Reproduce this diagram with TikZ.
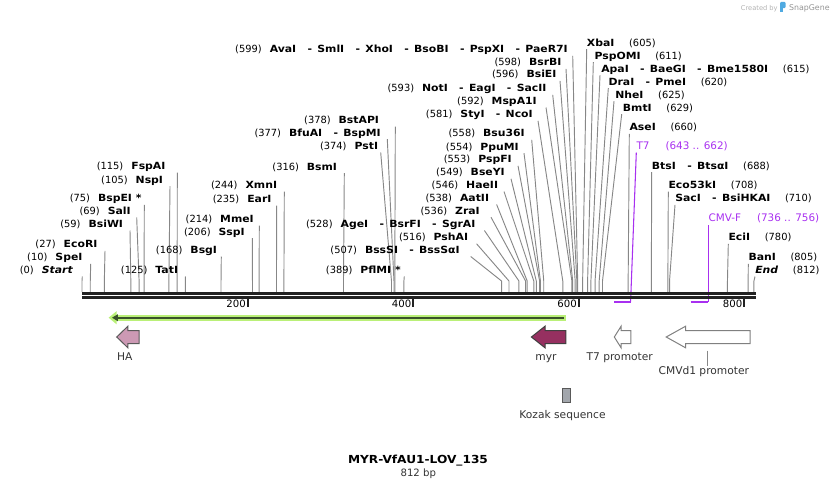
\documentclass[tikz,border=0pt]{standalone}
\usepackage{fontspec}
\setmainfont{DejaVu Sans}[BoldFeatures={FakeStretch=1.1},BoldItalicFeatures={FakeStretch=1.1}]
\usetikzlibrary{arrows.meta}
\definecolor{sitegray}{RGB}{135,135,135}
\definecolor{mapblack}{RGB}{34,34,34}
\definecolor{primer}{RGB}{168,48,240}
\definecolor{hapink}{RGB}{204,153,180}
\definecolor{myrred}{RGB}{150,48,96}
\definecolor{orfglow}{RGB}{186,240,120}
\definecolor{orfdark}{RGB}{58,82,42}
\definecolor{kozakgray}{RGB}{162,166,172}
\definecolor{logoblue}{RGB}{80,170,225}
% separator between enzymes that cut at the same place
\newcommand{\dsh}{\hspace{8.5pt}-\hspace{4pt}}
% left pointing feature: tip x, neck x, end x, style
\newcommand{\featarrow}[4]{\draw[feat,#4] (#1,337) -- (#2,326.2) -- (#2,330.6) -- (#3,330.6) -- (#3,343.6) -- (#2,343.6) -- (#2,347.8) -- cycle;}

\begin{document}
\begin{tikzpicture}[x=0.75pt, y=-0.75pt,
  every node/.style={font=\fontsize{7.4}{8}\selectfont, inner sep=0pt, text height=6pt, text depth=1pt},
  site/.style={sitegray, line width=0.7pt},
  lab/.style={anchor=east},
  rlab/.style={anchor=west},
  featlab/.style={font=\fontsize{8}{9}\selectfont, text=black!80},
  primlab/.style={anchor=west, text=primer, font=\fontsize{7.8}{9}\selectfont},
  feat/.style={line width=0.75pt, line join=miter}]
\useasboundingbox (0,0) rectangle (838,489);

% enzymes with labels on the left: bp / gap / label x / label y / name
\foreach \b/\d/\e/\y/\n in {0/9/73.3/270/\textit{Start}, 10/8/82.7/257.3/SpeI, 27/7.3/97.7/244.3/EcoRI,
    59/6.7/123.3/224/BsiWI, 69/5.7/131/211/SalI, 75/2.6/141.7/198.3/BspEI *, 105/6.7/163.3/179.7/NspI,
    115/11.6/165.7/166/FspAI, 125/7/178.3/270/TatI, 168/4/217.3/250/BsgI, 206/7.3/245/231.7/SspI,
    214/5.3/254/219/MmeI, 235/5/271.7/199/EarI, 244/7/277.3/185/XmnI, 316/7/337.3/166.7/BsmI,
    374/2.4/378.3/146/PstI, 377/6.3/381/132.7/BfuAI\dsh BspMI, 378/16/379.3/120/BstAPI,
    389/3.3/401/270/PflMI *, 507/10.7/460/250/BssSI\dsh BssSαI, 516/8.3/468.3/237.3/PshAI,
    528/8.7/475.7/224/AgeI\dsh BsrFI\dsh SgrAI, 536/11/480/210.7/ZraI, 538/7.3/489.3/198/AatII,
    546/5.7/498.3/185/HaeII, 549/6/505/172.3/BseYI, 553/6/512/159.3/PspFI, 554/5/519/146.7/PpuMI,
    558/6.7/525/133.3/Bsu36I, 581/5/533/114.3/StyI\dsh NcoI, 592/9/537/101/MspA1I,
    593/6/546.7/88.3/NotI\dsh EagI\dsh SacII, 596/3.3/556.7/74.3/BsiEI, 598/4.3/561.7/62.3/BsrBI,
    599/4.7/568/49.3/AvaI\dsh SmlI\dsh XhoI\dsh BsoBI\dsh PspXI\dsh PaeR7I}{
  \coordinate (s\b) at ({82+0.8275*\b},292);
  \node[lab] (e\b) at (\e,\y) {(\b)\hspace{6pt}\textbf{\n}};
  \draw[site] (s\b) -- ++(0,-11) -- ([shift={(\d,6.5)}]e\b.east);
}
% enzymes with labels on the right
\foreach \b/\d/\e/\y/\n in {605/0/586.7/42.7/XbaI, 611/-1/594.3/55.7/PspOMI,
    615/-1/601/68.7/ApaI\dsh BaeGI\dsh Bme1580I, 620/0/608.3/81.7/DraI\dsh PmeI,
    625/-1/615/94.7/NheI, 629/-1/622.7/107.7/BmtI, 660/0/629.3/127.3/AseI,
    688/0/651.7/165.7/BtsI\dsh BtsαI, 708/0/668.3/185/Eco53kI, 710/0/675/198.3/SacI\dsh BsiHKAI,
    780/0/728.3/237.3/EciI, 805/0/748.3/257.3/BanI, 812/0/755/270/\textit{End}}{
  \coordinate (s\b) at ({82+0.8275*\b},292);
  \node[rlab] (e\b) at (\e,\y) {\textbf{\n}\hspace{11pt}(\b)};
  \draw[site] (s\b) -- ++(0,-11) -- ([shift={(\d,6.5)}]e\b.west);
}

% primers
\node[primlab] (pT7) at (636.3,146) {T7\hspace{12pt}(643 .. 662)};
\node[primlab] (pCMV) at (708.3,218.3) {CMV-F\hspace{12pt}(736 .. 756)};
\coordinate (t7a) at (614.3,301.6); \coordinate (t7b) at (630.6,301.6);
\coordinate (cmva) at (690.5,301.6); \coordinate (cmvb) at (708.3,301.6);
\draw[primer, line width=1.6pt] (t7a) -- (t7b);
\draw[primer, line width=1.6pt] (cmva) -- (cmvb);
\draw[primer, line width=0.8pt] (t7b) -- ([shift={(0,6.5)}]pT7.west);
\draw[primer, line width=0.8pt] (cmvb) -- ([shift={(0,6.5)}]pCMV.west);

% sequence line and ruler
\draw[mapblack, line width=2.5pt] (82,293.4) -- (755.7,293.4);
\draw[mapblack, line width=2.3pt] (82,297.5) -- (755.7,297.5);
\foreach \i in {200,400,600,800} {
  \draw[mapblack, line width=1.5pt] ({82+0.8275*\i},298) -- ++(0,8.5);
  \node[anchor=east, font=\fontsize{7.6}{8}\selectfont] (r\i) at ({80.5+0.8275*\i},304) {\i};
}

% orf
\coordinate (orfR) at (565.5,317.7); \coordinate (orfL) at (108.6,317.7);
\draw[orfglow, line width=4.6pt, -{Triangle[length=6pt,width=9.5pt]}] (orfR) -- (orfL);
\draw[orfdark, line width=1.6pt, -{Triangle[length=4.5pt,width=5pt]}] ([xshift=-1]orfR) -- ([xshift=2.5]orfL);

% features
\featarrow{116.7}{127.9}{139}{fill=hapink, draw=black!65}
\featarrow{531.4}{545}{565.8}{fill=myrred, draw=black!75}
\featarrow{614.3}{621.1}{630.8}{fill=white, draw=black!50}
\featarrow{666.2}{685.6}{750.1}{fill=white, draw=black!50}
\draw[fill=kozakgray, draw=black!65, line width=0.75pt] (562.9,388.3) rectangle (570.2,402.3);

\node[featlab] (ha) at (124.7,357.3) {HA};
\node[featlab] (myr) at (546,357.3) {myr};
\node[featlab] (t7p) at (619.7,357.3) {T7 promoter};
\node[featlab] (cmvp) at (703.8,370.7) {CMVd1 promoter};
\node[featlab] (koz) at (562.5,415) {Kozak sequence};
\coordinate (cmvtop) at (707.9,350.7);
\draw[sitegray, line width=0.7pt] (cmvtop) -- (cmvtop |- cmvp.north);

% title
\node[font=\fontsize{8.3}{9}\selectfont\bfseries] (title) at (418,460) {MYR-VfAU1-LOV\_135};
\node[font=\fontsize{7.6}{9}\selectfont, text=black!80] (len) at (418.3,473.3) {812 bp};

% watermark
\node[anchor=west, font=\fontsize{5}{6}\selectfont, text=black!30] (made) at (740.7,7.5) {Created by};
\fill[logoblue, rounded corners=0.8pt] (780.2,1.8) rectangle (785.6,8.2);
\fill[logoblue] (780.2,6) rectangle (782.6,12);
\node[anchor=west, font=\fontsize{5.9}{7}\selectfont, text=black!42] (sg) at (788.8,7.5) {SnapGene};
\end{tikzpicture}
\end{document}
